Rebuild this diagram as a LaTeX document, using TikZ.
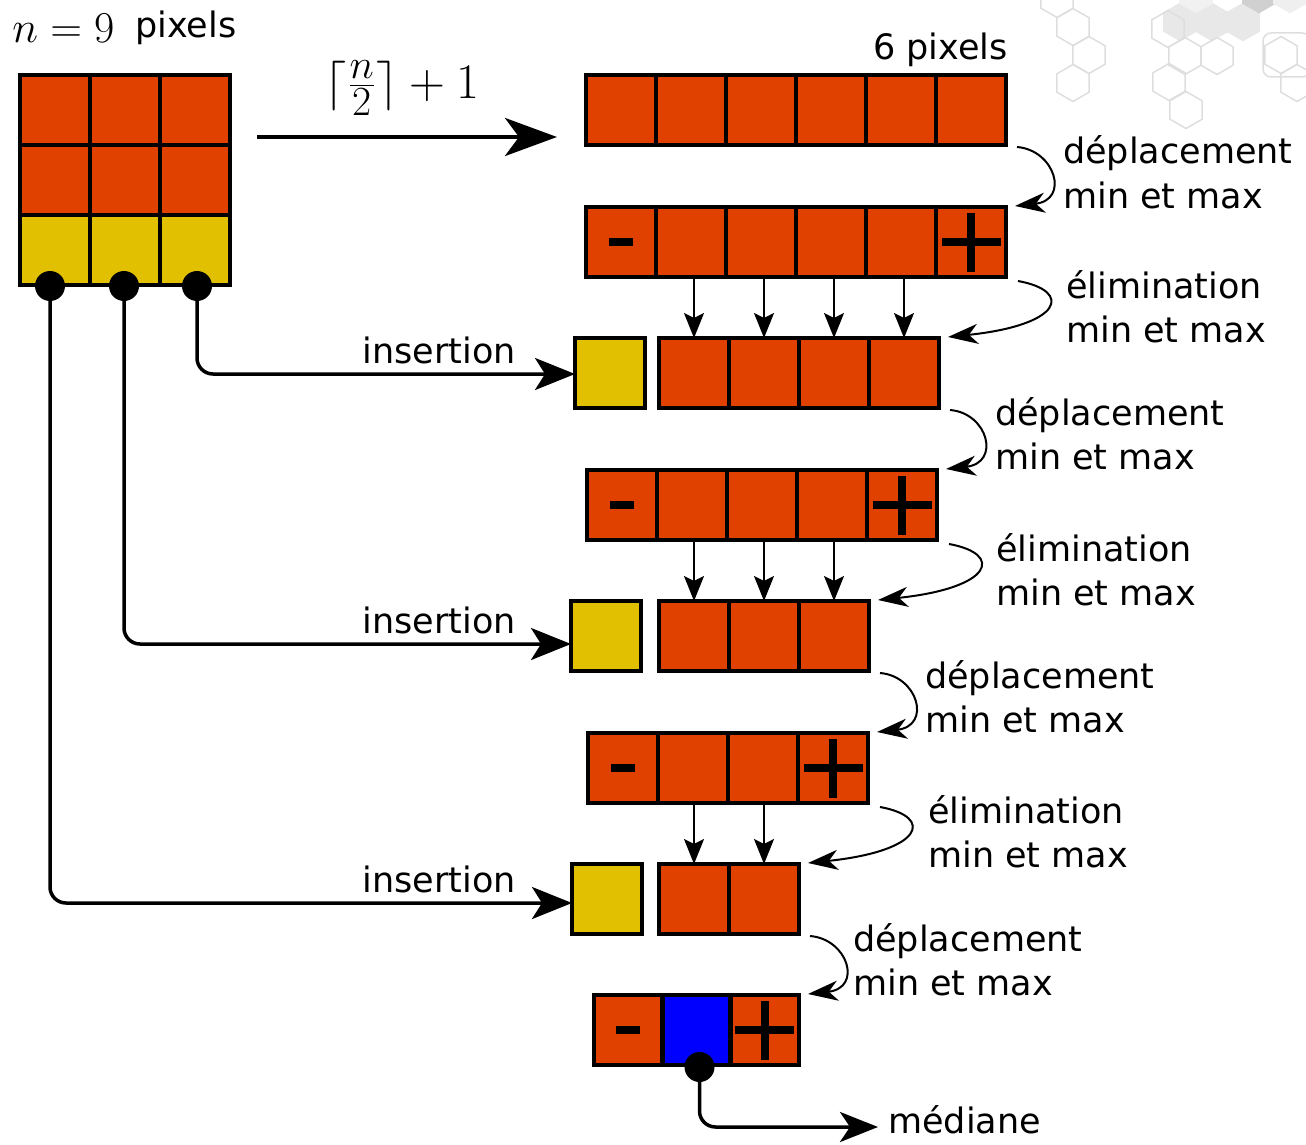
\documentclass[tikz,border=0pt]{standalone}
\usepackage{fontspec}
\setmainfont{DejaVu Sans}
\usetikzlibrary{arrows.meta,calc}

\definecolor{cellred}{RGB}{224,64,0}
\definecolor{cellyellow}{RGB}{224,192,0}
\definecolor{cellblue}{RGB}{0,0,255}
\definecolor{hexgray}{RGB}{222,222,222}
\definecolor{hexfill}{RGB}{232,232,232}
\definecolor{hexdark}{RGB}{208,208,208}

% background honeycomb cell (pointy top)
\newcommand\hexcell[3][]{%
  \draw[hexline,#1] (#2,#3) +(90:18.5) -- +(150:18.5) -- +(210:18.5)
    -- +(270:18.5) -- +(330:18.5) -- +(30:18.5) -- cycle;}
% min / max markers inside a cell
\newcommand\cellminus[1]{\fill ($(#1)+(-12,-4)$) rectangle ++(24,8);}
\newcommand\cellplus[1]{%
  \fill ($(#1)+(-29.5,-4)$) rectangle ++(59,8);
  \fill ($(#1)+(-4,-29.5)$) rectangle ++(8,59);}

\tikzset{
  hexline/.style={draw=hexgray, line width=1.5pt},
  cell/.style={draw=black, line width=4.5pt, fill=cellred,
    minimum width=70pt, minimum height=70pt, inner sep=0pt, outer sep=0pt},
  ycell/.style={cell, fill=cellyellow},
  dot/.style={circle, fill=black, inner sep=0pt, minimum size=30pt},
  lbl/.style={font=\fontsize{35}{42}\selectfont, inner sep=0pt, anchor=base west},
  mathlbl/.style={font=\Huge, inner sep=0pt},
  mainarrow/.style={line width=4.5pt, -{Stealth[length=52pt,width=38pt,inset=14pt]}},
  insarrow/.style={line width=3.5pt, rounded corners=16pt,
    -{Stealth[length=40pt,width=32pt,inset=10pt]}},
  dropline/.style={line width=2pt, -{Stealth[length=25pt,width=20pt,inset=5pt]}},
  bendarrow/.style={line width=2pt, -{Stealth[length=30pt,width=20pt,inset=9pt]}},
}

\begin{document}
\begin{tikzpicture}[x=1pt,y=-1pt]
\useasboundingbox (0,0) rectangle (1306,1145);

% ---- honeycomb decoration, top right ----
\hexcell{1057}{-1}
\hexcell{1073}{27}
\hexcell{1089}{55}
\hexcell{1073}{83}
\hexcell[fill=hexfill,draw=hexfill]{1180}{22}
\hexcell[fill=hexfill,draw=hexfill]{1212}{22}
\hexcell[fill=hexfill,draw=hexfill]{1243}{22}
\hexcell[fill=hexfill!60,draw=hexfill!60]{1196}{-6}
\hexcell[fill=hexdark,draw=hexdark]{1259}{-6}
\hexcell[fill=hexfill!70,draw=hexfill!70]{1290}{-6}
\hexcell{1168}{29}
\hexcell{1185}{56}
\hexcell{1217}{56}
\hexcell{1169}{82}
\hexcell{1186}{110}
\hexcell{1281}{55}
\hexcell{1297}{83}
\draw[hexline, rounded corners=8pt] (1263,33) rectangle (1310,77);

% ---- input block: 3 x 3 pixels ----
\foreach \i in {1,2,3}{
  \node[cell]  (g1\i) at ({-15+70*\i},110) {};
  \node[cell]  (g2\i) at ({-15+70*\i},180) {};
  \node[ycell] (g3\i) at ({-15+70*\i},250) {};
}
\node[dot] (p1) at ($(g31.south)+(-5,1)$) {};
\node[dot] (p2) at ($(g32.south)+(-1,1)$) {};
\node[dot] (p3) at ($(g33.south)+(2,1)$) {};

\node[mathlbl, scale=1.77, anchor=base west] (nlab) at (12,43) {$n=9$};
\node[lbl] (nlabpx) at (135,38) {pixels};

% ---- first window ----
\coordinate (a0) at (257,137);
\coordinate (a1) at (557,137);
\draw[mainarrow] (a0) -- (a1);
\node[mathlbl, scale=2.0] (ceil) at (402,88) {$\Bigl\lceil\frac{n}{2}\Bigr\rceil+1$};

\foreach \i in {1,...,6}
  \node[cell] (r1c\i) at ({551+70*\i},110) {};
\node[lbl, anchor=base east] (sixpx) at (1008,60) {6 pixels};

% ---- row 2 ----
\foreach \i in {1,...,6}
  \node[cell] (r2c\i) at ({551+70*\i},242) {};
\cellminus{r2c1}
\cellplus{r2c6}

% ---- row 3 ----
\node[ycell] (r3y) at (610,373) {};
\foreach \i in {1,...,4}
  \node[cell] (r3c\i) at ({624+70*\i},373) {};

% ---- row 4 ----
\foreach \i in {1,...,5}
  \node[cell] (r4c\i) at ({552+70*\i},505) {};
\cellminus{r4c1}
\cellplus{r4c5}

% ---- row 5 ----
\node[ycell] (r5y) at (606,636) {};
\foreach \i in {1,...,3}
  \node[cell] (r5c\i) at ({624+70*\i},636) {};

% ---- row 6 ----
\foreach \i in {1,...,4}
  \node[cell] (r6c\i) at ({553+70*\i},768) {};
\cellminus{r6c1}
\cellplus{r6c4}

% ---- row 7 ----
\node[ycell] (r7y) at (607,899) {};
\foreach \i in {1,2}
  \node[cell] (r7c\i) at ({624+70*\i},899) {};

% ---- row 8: final window ----
\node[cell, minimum width=68.3pt] (r8c1) at (628.2,1030) {};
\node[cell, minimum width=68.3pt, fill=cellblue] (r8c2) at (696.5,1030) {};
\node[cell, minimum width=68.3pt] (r8c3) at (764.8,1030) {};
\cellminus{r8c1}
\cellplus{r8c3}
\node[dot] (pm) at ($(r8c2.south)+(3,2)$) {};

% ---- eliminated values drop down ----
\foreach \i/\k in {1/2,2/3,3/4,4/5}
  \draw[dropline] (r3c\i |- r2c\k.south) -- (r3c\i.north);
\foreach \i/\k in {1/2,2/3,3/4}
  \draw[dropline] (r5c\i |- r4c\k.south) -- (r5c\i.north);
\foreach \i/\k in {1/2,2/3}
  \draw[dropline] (r7c\i |- r6c\k.south) -- (r7c\i.north);

% ---- insertions of the remaining pixels ----
\draw[insarrow] (p3) |- ($(r3y.west)+(0,1)$);
\draw[insarrow] (p2) |- ($(r5y.west)+(0,8)$);
\draw[insarrow] (p1) |- ($(r7y.west)+(0,4)$);
\node[lbl, anchor=base east] (ins1) at (516,363) {insertion};
\node[lbl, anchor=base east] (ins2) at (516,633) {insertion};
\node[lbl, anchor=base east] (ins3) at (516,892) {insertion};

% ---- median output ----
\coordinate (medend) at (878,1127);
\draw[insarrow, -{Stealth[length=38pt,width=30pt,inset=10pt]}] (pm) |- (medend);
\node[lbl] (med) at (888,1133) {médiane};

% ---- move min / max (curved arrows) ----
\draw[bendarrow] ($(r1c6.south east)+(11,2)$) .. controls +(38,3) and +(55,-6) .. ($(r2c6.north east)+(9,-1)$);
\draw[bendarrow] ($(r3c4.south east)+(11,2)$) .. controls +(38,3) and +(55,-6) .. ($(r4c5.north east)+(9,-1)$);
\draw[bendarrow] ($(r5c3.south east)+(11,2)$) .. controls +(38,3) and +(55,-6) .. ($(r6c4.north east)+(9,-1)$);
\draw[bendarrow] ($(r7c2.south east)+(11,2)$) .. controls +(38,3) and +(55,-6) .. ($(r8c3.north east)+(9,-1)$);

% ---- eliminate min / max (curved arrows) ----
\draw[bendarrow] ($(r2c6.south east)+(12,4)$) .. controls +(55,10) and +(115,-12) .. ($(r3c4.north east)+(9,-1)$);
\draw[bendarrow] ($(r4c5.south east)+(12,4)$) .. controls +(55,10) and +(115,-12) .. ($(r5c3.north east)+(9,-1)$);
\draw[bendarrow] ($(r6c4.south east)+(12,4)$) .. controls +(55,10) and +(115,-12) .. ($(r7c2.north east)+(9,-1)$);

% ---- step labels ----
\node[lbl] (d1a) at (1063,164) {déplacement};
\node[lbl] (d1b) at (1063,208) {min et max};
\node[lbl] (e1a) at (1066,298) {élimination};
\node[lbl] (e1b) at (1066,342) {min et max};
\node[lbl] (d2a) at (995,425) {déplacement};
\node[lbl] (d2b) at (995,469) {min et max};
\node[lbl] (e2a) at (996,561) {élimination};
\node[lbl] (e2b) at (996,605) {min et max};
\node[lbl] (d3a) at (925,688) {déplacement};
\node[lbl] (d3b) at (925,732) {min et max};
\node[lbl] (e3a) at (928,823) {élimination};
\node[lbl] (e3b) at (928,867) {min et max};
\node[lbl] (d4a) at (853,951) {déplacement};
\node[lbl] (d4b) at (853,995) {min et max};
\end{tikzpicture}
\end{document}
